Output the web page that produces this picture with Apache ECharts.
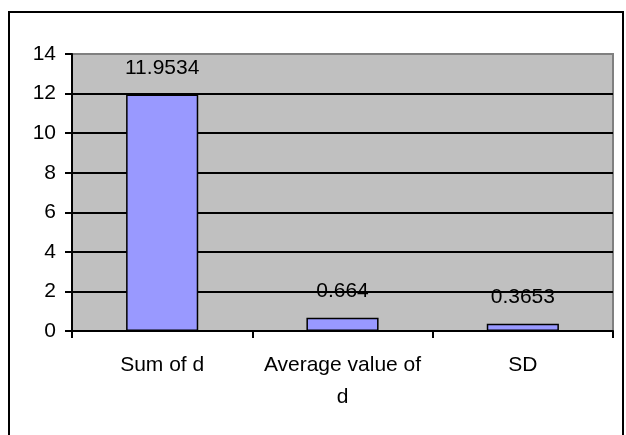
<!DOCTYPE html>
<html>
<head>
<meta charset="utf-8">
<script src="https://cdn.jsdelivr.net/npm/echarts@6/dist/echarts.min.js"></script>
<style>html,body{margin:0;padding:0;background:#fff}#c{width:626px;height:435px}</style>
</head>
<body>
<div id="c"></div>
<script>
const categories = ['Sum of d', 'Average value of d', 'SD'];
const values = [11.9534, 0.664, 0.3653];
const yTicks = [0, 2, 4, 6, 8, 10, 12, 14];

function wrap(s) {
  if (s.length <= 16) return s;
  const i = s.lastIndexOf(' ');
  return s.slice(0, i) + '\n' + s.slice(i + 1);
}

const chart = echarts.init(document.getElementById('c'), null, {renderer: 'canvas'});
const font = '"Liberation Sans", Arial, sans-serif';
const fs = 21;
chart.setOption({
  animation: false,
  backgroundColor: '#fff',
  textStyle: {fontFamily: font},
  graphic: [{
    type: 'rect', z: 100, silent: true,
    shape: {x: 9, y: 12, width: 614, height: 440},
    style: {fill: 'none', stroke: '#000', lineWidth: 2}
  }],
  grid: {
    left: 72, right: 13, top: 54, bottom: 104,
    show: true, backgroundColor: '#C0C0C0', borderColor: '#808080', borderWidth: 2
  },
  xAxis: {
    type: 'category',
    data: categories,
    axisLine: {lineStyle: {color: '#000', width: 2}},
    axisTick: {show: true, length: 7, lineStyle: {color: '#000', width: 2}},
    axisLabel: {color: '#000', fontSize: fs, fontFamily: font, margin: 18, lineHeight: 32, formatter: wrap, interval: 0},
    splitLine: {show: false}
  },
  yAxis: {
    type: 'value',
    min: yTicks[0], max: yTicks[yTicks.length - 1], interval: 2,
    axisLine: {show: true, lineStyle: {color: '#000', width: 2}},
    axisTick: {show: true, length: 7, lineStyle: {color: '#000', width: 2}},
    axisLabel: {color: '#000', fontSize: fs, fontFamily: font, margin: 16},
    splitLine: {show: true, lineStyle: {color: ['#000', '#000', '#000', '#000', '#000', '#000', '#000', '#808080'], width: 2}}
  },
  series: [{
    type: 'bar',
    data: values,
    barCategoryGap: '60%',
    itemStyle: {color: '#9999FF', borderColor: '#000', borderWidth: 1.5},
    label: {
      show: true, position: 'top', distance: 16,
      color: '#000', fontSize: fs, fontFamily: font,
      formatter: p => String(p.value)
    }
  }]
});
</script>
</body>
</html>
